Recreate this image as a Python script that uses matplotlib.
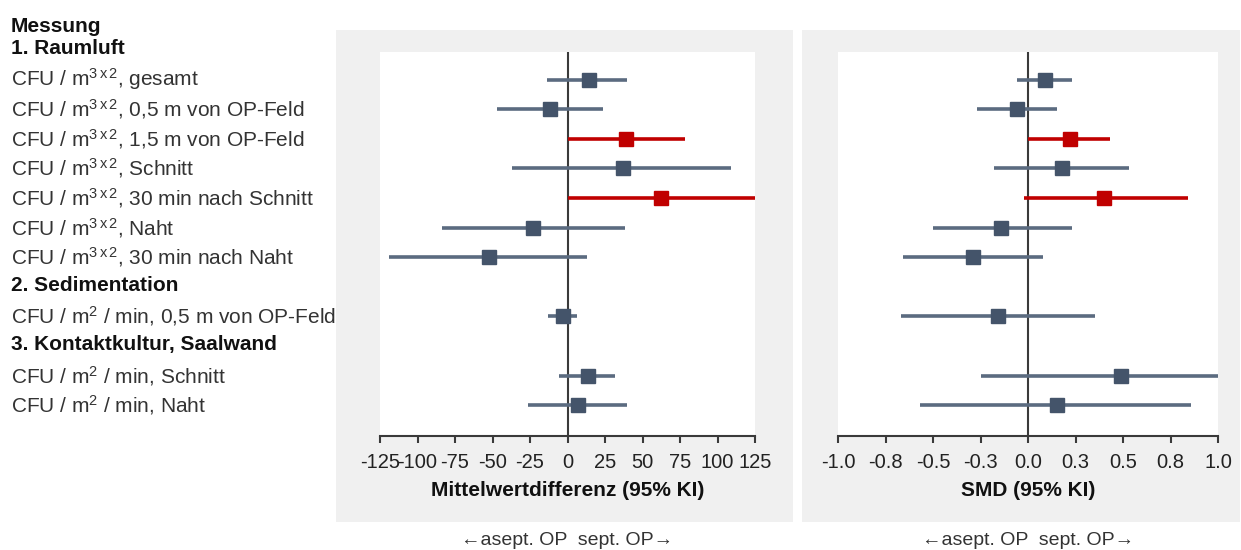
import matplotlib
matplotlib.use("Agg")
import matplotlib.pyplot as plt
import matplotlib.transforms as mtransforms
from matplotlib.patches import Rectangle
import numpy as np

plt.rcParams['font.family'] = ['Liberation Sans', 'DejaVu Sans']
plt.rcParams['mathtext.fontset'] = 'custom'
plt.rcParams['mathtext.rm'] = 'Liberation Sans'
plt.rcParams['mathtext.it'] = 'Liberation Sans'
plt.rcParams['mathtext.bf'] = 'Liberation Sans:bold'
plt.rcParams['mathtext.default'] = 'regular'

# ---------------- data ----------------
row_labels = [
    ("Messung", True),
    ("1. Raumluft", True),
    ("CFU / m$^{3\\,x\\,2}$, gesamt", False),
    ("CFU / m$^{3\\,x\\,2}$, 0,5 m von OP-Feld", False),
    ("CFU / m$^{3\\,x\\,2}$, 1,5 m von OP-Feld", False),
    ("CFU / m$^{3\\,x\\,2}$, Schnitt", False),
    ("CFU / m$^{3\\,x\\,2}$, 30 min nach Schnitt", False),
    ("CFU / m$^{3\\,x\\,2}$, Naht", False),
    ("CFU / m$^{3\\,x\\,2}$, 30 min nach Naht", False),
    ("2. Sedimentation", True),
    ("CFU / m$^{2}$ / min, 0,5 m von OP-Feld", False),
    ("3. Kontaktkultur, Saalwand", True),
    ("CFU / m$^{2}$ / min, Schnitt", False),
    ("CFU / m$^{2}$ / min, Naht", False),
]
label_rows = [-0.8, -0.05, 1, 2, 3, 4, 5, 6, 7, 7.95, 9, 9.95, 11, 12]

data_rows = [1, 2, 3, 4, 5, 6, 7, 9, 11, 12]
significant = [False, False, True, False, True, False, False, False, False, False]

md_est = [14, -11.5, 39, 37, 62, -23, -52.5, -3, 13.5, 7]
md_lo = [-13.5, -47, 0, -37, 0, -84, -119, -13, -5.5, -26.5]
md_hi = [39.5, 23.5, 78, 109, 125, 38, 13, 6, 31.5, 39.5]

smd_est = [0.09, -0.06, 0.22, 0.18, 0.40, -0.14, -0.29, -0.16, 0.49, 0.15]
smd_lo = [-0.06, -0.27, 0.0, -0.18, -0.02, -0.50, -0.66, -0.67, -0.25, -0.57]
smd_hi = [0.23, 0.15, 0.43, 0.53, 0.84, 0.23, 0.08, 0.35, 1.0, 0.86]

md_ticks = [-125, -100, -75, -50, -25, 0, 25, 50, 75, 100, 125]
md_ticklabels = ["-125", "-100", "-75", "-50", "-25", "0", "25", "50", "75", "100", "125"]
smd_ticks = [-1.0, -0.75, -0.5, -0.25, 0.0, 0.25, 0.5, 0.75, 1.0]
smd_ticklabels = ["-1.0", "-0.8", "-0.5", "-0.3", "0.0", "0.3", "0.5", "0.8", "1.0"]

xlabel_md = "Mittelwertdifferenz (95% KI)"
xlabel_smd = "SMD (95% KI)"
direction_text = "\u2190asept. OP  sept. OP\u2192"

# ---------------- styling ----------------
W, H = 1241, 550
fig = plt.figure(figsize=(W / 100, H / 100), dpi=100)
fig.patch.set_facecolor("white")

BLUE = "#44546A"
BLUE_LINE = "#5B6B80"
RED = "#C00000"
GRAY_BG = "#F0F0F0"
AXIS_C = "#3A3A3A"


def px_rect(x0, y0, x1, y1):
    return [x0 / W, 1 - y1 / H, (x1 - x0) / W, (y1 - y0) / H]


# gray panels
for (x0, y0, x1, y1) in [(336, 30, 793, 522), (802, 30, 1240, 522)]:
    r = px_rect(x0, y0, x1, y1)
    fig.patches.append(Rectangle((r[0], r[1]), r[2], r[3], transform=fig.transFigure,
                                 facecolor=GRAY_BG, edgecolor="none", zorder=-5))

ax1 = fig.add_axes(px_rect(380, 52, 755, 436))
ax2 = fig.add_axes(px_rect(838, 52, 1218, 436))
for ax in (ax1, ax2):
    ax.set_zorder(2)

ytop = 0.07
ybot = 13.04


def draw_panel(ax, est, lo, hi, xlim, ticks, ticklabels, xlabel):
    ax.set_facecolor("white")
    ax.set_xlim(*xlim)
    ax.set_ylim(ybot, ytop)
    ax.axvline(0, color=AXIS_C, lw=1.5, zorder=2)
    for i, y in enumerate(data_rows):
        sig = significant[i]
        lc = RED if sig else BLUE_LINE
        mc = RED if sig else BLUE
        ax.plot([lo[i], hi[i]], [y, y], color=lc, lw=2.6, solid_capstyle="butt", zorder=3,
                clip_on=True)
        ax.plot([est[i]], [y], marker="s", markersize=10.5, color=mc, mec=mc, zorder=4)
    for s in ["top", "left", "right"]:
        ax.spines[s].set_visible(False)
    ax.spines["bottom"].set_color(AXIS_C)
    ax.spines["bottom"].set_linewidth(1.5)
    ax.set_yticks([])
    ax.set_xticks(ticks)
    ax.set_xticklabels(ticklabels, fontsize=14.5, color="#222222")
    ax.tick_params(axis="x", direction="out", length=5, width=1.5, color=AXIS_C, pad=7)
    ax.set_xlabel(xlabel, fontsize=15, fontweight="bold", color="#111111", labelpad=7)


draw_panel(ax1, md_est, md_lo, md_hi, (-125, 125), md_ticks, md_ticklabels, xlabel_md)
draw_panel(ax2, smd_est, smd_lo, smd_hi, (-1.0, 1.0), smd_ticks, smd_ticklabels, xlabel_smd)

# row labels
trans = mtransforms.blended_transform_factory(fig.transFigure, ax1.transData)
for (txt, bold), r in zip(row_labels, label_rows):
    fig.text(11 / W, r, txt, transform=trans, fontsize=15,
             fontweight="bold" if bold else "normal",
             color="#111111" if bold else "#333333", va="center", ha="left")

# direction texts
for ax in (ax1, ax2):
    t = mtransforms.blended_transform_factory(ax.transData, fig.transFigure)
    fig.text(0, 1 - 545 / H, direction_text, transform=t, ha="center", va="baseline",
             fontsize=14, color="#333333")

fig.savefig("out.png", dpi=100)
